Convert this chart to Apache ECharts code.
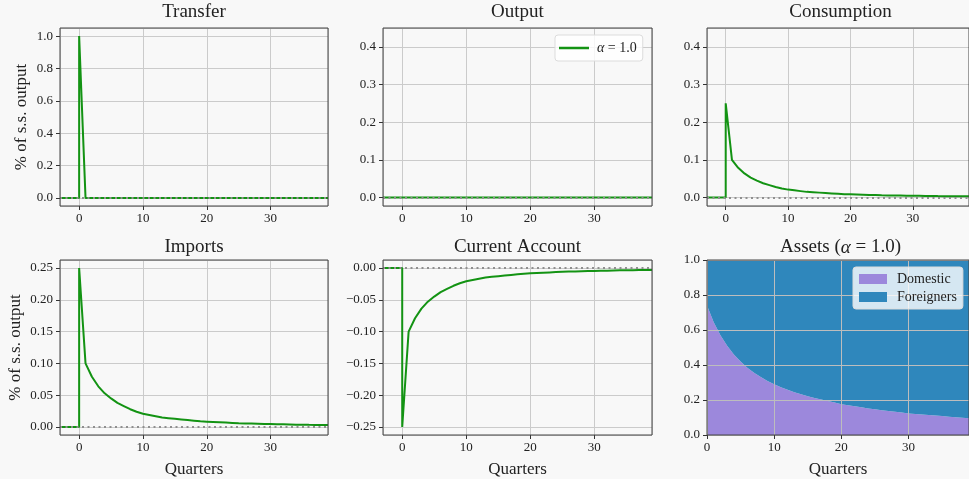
<!DOCTYPE html>
<html>
<head>
<meta charset="utf-8">
<script src="https://cdn.jsdelivr.net/npm/echarts@6.0.0/dist/echarts.min.js"></script>
<style>
html, body { margin: 0; padding: 0; background: #f8f8f8; }
#chart { width: 969px; height: 479px; }
</style>
</head>
<body>
<div id="chart"></div>
<script>
// quarters after the shock, pre-shock points are flat at zero
const preQuarters = [-3, 0]
const preValues = [0, 0]
const quarters = [0, 1, 2, 3, 4, 5, 6, 7, 8, 9, 10, 11, 12, 13, 14, 15, 16, 17, 18, 19,
  20, 21, 22, 23, 24, 25, 26, 27, 28, 29, 30, 31, 32, 33, 34, 35, 36, 37, 38, 39]

const transfer = [1.0, 0, 0, 0, 0, 0, 0, 0, 0, 0, 0, 0, 0, 0, 0, 0, 0, 0, 0, 0,
  0, 0, 0, 0, 0, 0, 0, 0, 0, 0, 0, 0, 0, 0, 0, 0, 0, 0, 0, 0]
const output = [0.0015, 0, 0, 0, 0, 0, 0, 0, 0, 0, 0, 0, 0, 0, 0, 0, 0, 0, 0, 0,
  0, 0, 0, 0, 0, 0, 0, 0, 0, 0, 0, 0, 0, 0, 0, 0, 0, 0, 0, 0]
const consumption = [0.250, 0.100, 0.079, 0.064, 0.053, 0.045, 0.038, 0.033, 0.028, 0.024,
  0.021, 0.019, 0.017, 0.015, 0.014, 0.013, 0.012, 0.011, 0.010, 0.009,
  0.0085, 0.008, 0.0075, 0.007, 0.0065, 0.006, 0.0057, 0.0054, 0.0051, 0.0048,
  0.0046, 0.0044, 0.0042, 0.004, 0.0038, 0.0037, 0.0035, 0.0034, 0.0033, 0.0032]
const imports = [0.250, 0.100, 0.079, 0.064, 0.053, 0.045, 0.038, 0.033, 0.028, 0.024,
  0.021, 0.019, 0.017, 0.015, 0.014, 0.013, 0.012, 0.011, 0.010, 0.009,
  0.0085, 0.008, 0.0075, 0.007, 0.0065, 0.006, 0.0057, 0.0054, 0.0051, 0.0048,
  0.0046, 0.0044, 0.0042, 0.004, 0.0038, 0.0037, 0.0035, 0.0034, 0.0033, 0.0032]
const currentAccount = [-0.250, -0.100, -0.079, -0.064, -0.053, -0.045, -0.038, -0.033, -0.028, -0.024,
  -0.021, -0.019, -0.017, -0.015, -0.014, -0.013, -0.012, -0.011, -0.010, -0.009,
  -0.0085, -0.008, -0.0075, -0.007, -0.0065, -0.006, -0.0057, -0.0054, -0.0051, -0.0048,
  -0.0046, -0.0044, -0.0042, -0.004, -0.0038, -0.0037, -0.0035, -0.0034, -0.0033, -0.0032]

// asset shares (stacked to 1)
const domestic = [0.740, 0.645, 0.570, 0.510, 0.460, 0.420, 0.385, 0.356, 0.331, 0.309,
  0.290, 0.273, 0.258, 0.245, 0.233, 0.222, 0.212, 0.203, 0.195, 0.186,
  0.176, 0.170, 0.164, 0.158, 0.152, 0.147, 0.142, 0.137, 0.133, 0.128,
  0.123, 0.120, 0.117, 0.114, 0.111, 0.108, 0.105, 0.102, 0.099, 0.096]
const foreigners = [0.260, 0.355, 0.430, 0.490, 0.540, 0.580, 0.615, 0.644, 0.669, 0.691,
  0.710, 0.727, 0.742, 0.755, 0.767, 0.778, 0.788, 0.797, 0.805, 0.814,
  0.824, 0.830, 0.836, 0.842, 0.848, 0.853, 0.858, 0.863, 0.867, 0.872,
  0.877, 0.880, 0.883, 0.886, 0.889, 0.892, 0.895, 0.898, 0.901, 0.904]

const titles = ['Transfer', 'Output', 'Consumption', 'Imports', 'Current Account', 'Assets ({a|α} = 1.0)']

const font = 'Liberation Serif'
const green = '#139313'
const textColor = '#222'

const cells = [
  { left: 60, top: 28, width: 268, height: 178 },
  { left: 383, top: 28, width: 269, height: 178 },
  { left: 707, top: 28, width: 267, height: 178 },
  { left: 60, top: 260, width: 268, height: 178 },
  { left: 383, top: 260, width: 269, height: 178 },
  { left: 707, top: 260, width: 267, height: 178 }
]

const lineData = (vals) =>
  preQuarters.map((q, i) => [q, preValues[i]]).concat(quarters.map((q, i) => [q, vals[i]]))

const fmt1 = v => Number(v).toFixed(1)
const fmt2 = v => (v < 0 ? '\u2212' + (-v).toFixed(2) : v.toFixed(2))

const tickStyle = { show: true, length: 4, lineStyle: { color: '#333' } }
const gridLine = { show: true, lineStyle: { color: '#cbcbcb', width: 1 } }
const nameStyle = { fontFamily: font, fontSize: 17, color: textColor }
// spines come from the grid border, axis lines stay hidden and off zero
const noAxisLine = { show: false, onZero: false }

const xAx = (gi, bottom) => ({
  type: 'value',
  gridIndex: gi,
  min: -3,
  max: 39,
  axisLine: noAxisLine,
  axisTick: tickStyle,
  axisLabel: {
    fontFamily: font, fontSize: 13, color: textColor, margin: 6,
    showMinLabel: false, showMaxLabel: false
  },
  splitLine: gridLine,
  name: bottom ? 'Quarters' : '',
  nameLocation: 'middle',
  nameGap: 26,
  nameTextStyle: nameStyle
})

const yAx = (gi, min, max, formatter, name, gap) => ({
  type: 'value',
  gridIndex: gi,
  min: min,
  max: max,
  axisLine: noAxisLine,
  axisTick: tickStyle,
  axisLabel: {
    fontFamily: font, fontSize: 13, color: textColor, margin: 7,
    formatter: formatter, showMinLabel: false, showMaxLabel: false
  },
  splitLine: gridLine,
  name: name || '',
  nameLocation: 'middle',
  nameRotate: 90,
  nameGap: gap || 30,
  nameTextStyle: nameStyle
})

const zeroLine = {
  symbol: 'none',
  silent: true,
  label: { show: false },
  lineStyle: { type: [2, 3.5], color: '#8f8f8f', width: 1.8 },
  data: [{ yAxis: 0 }]
}

const lineSeries = (name, idx, vals) => ({
  name: name,
  type: 'line',
  xAxisIndex: idx,
  yAxisIndex: idx,
  data: lineData(vals),
  showSymbol: false,
  color: green,
  lineStyle: { width: 2, color: green },
  markLine: zeroLine,
  z: 3
})

const every10 = idx => quarters[idx] % 10 === 0

const chart = echarts.init(document.getElementById('chart'))

const option = {
  backgroundColor: '#f8f8f8',
  animation: false,
  title: cells.map((c, i) => ({
    text: titles[i],
    left: c.left + c.width / 2,
    top: i < 3 ? 3 : 238,
    textAlign: 'center',
    padding: 0,
    textStyle: {
      fontFamily: font, fontSize: 19, fontWeight: 'normal', color: textColor,
      rich: { a: { fontFamily: font, fontSize: 19, fontStyle: 'italic', color: textColor } }
    }
  })),
  grid: cells.map(c => Object.assign({
    show: true,
    backgroundColor: 'transparent',
    borderColor: '#444',
    borderWidth: 1,
    z: 6
  }, c)),
  legend: [
    {
      data: ['alpha'],
      left: 555,
      top: 35,
      icon: 'rect',
      itemWidth: 30,
      itemHeight: 2.5,
      padding: [6, 6, 6, 4],
      backgroundColor: 'rgba(255,255,255,0.8)',
      borderColor: '#dcdcdc',
      borderWidth: 1,
      borderRadius: 3,
      formatter: () => '{a|α} = 1.0',
      textStyle: {
        fontFamily: font, fontSize: 14, color: textColor, padding: [0, 0, 0, 3],
        rich: { a: { fontFamily: font, fontSize: 14, fontStyle: 'italic', color: textColor } }
      },
      z: 8
    },
    {
      data: ['Domestic', 'Foreigners'],
      orient: 'vertical',
      left: 853,
      top: 267,
      icon: 'rect',
      itemWidth: 28,
      itemHeight: 10,
      itemGap: 4,
      padding: [5, 6, 5, 6],
      backgroundColor: 'rgba(255,255,255,0.8)',
      borderColor: '#dcdcdc',
      borderWidth: 1,
      borderRadius: 3,
      textStyle: { fontFamily: font, fontSize: 14, color: textColor, padding: [0, 0, 0, 5] },
      z: 8
    }
  ],
  xAxis: [
    xAx(0, false),
    xAx(1, false),
    xAx(2, false),
    xAx(3, true),
    xAx(4, true),
    {
      type: 'category',
      gridIndex: 5,
      data: quarters,
      boundaryGap: false,
      z: 4,
      axisLine: noAxisLine,
      axisTick: Object.assign({ interval: every10 }, tickStyle),
      axisLabel: { fontFamily: font, fontSize: 13, color: textColor, margin: 6, interval: every10 },
      splitLine: { show: true, interval: every10, lineStyle: { color: '#bdbdbd', width: 1 } },
      name: 'Quarters',
      nameLocation: 'middle',
      nameGap: 26,
      nameTextStyle: nameStyle
    }
  ],
  yAxis: [
    yAx(0, -0.05, 1.05, fmt1, '% of s.s. output', 30),
    yAx(1, -0.0225, 0.45, fmt1),
    yAx(2, -0.0225, 0.45, fmt1),
    yAx(3, -0.0125, 0.2625, fmt2, '% of s.s. output', 36),
    yAx(4, -0.2625, 0.0125, fmt2),
    {
      type: 'value',
      gridIndex: 5,
      min: 0,
      max: 1,
      interval: 0.2,
      z: 4,
      axisLine: noAxisLine,
      axisTick: tickStyle,
      axisLabel: { fontFamily: font, fontSize: 13, color: textColor, margin: 7, formatter: fmt1 },
      splitLine: { show: true, lineStyle: { color: '#bdbdbd', width: 1 } }
    }
  ],
  series: [
    lineSeries('transfer', 0, transfer),
    lineSeries('alpha', 1, output),
    lineSeries('consumption', 2, consumption),
    lineSeries('imports', 3, imports),
    lineSeries('currentAccount', 4, currentAccount),
    {
      name: 'Domestic',
      type: 'line',
      xAxisIndex: 5,
      yAxisIndex: 5,
      stack: 'assets',
      data: domestic,
      showSymbol: false,
      color: '#9c88dc',
      lineStyle: { width: 0 },
      areaStyle: { color: '#9c88dc', opacity: 1 },
      z: 1
    },
    {
      name: 'Foreigners',
      type: 'line',
      xAxisIndex: 5,
      yAxisIndex: 5,
      stack: 'assets',
      data: foreigners,
      showSymbol: false,
      color: '#2f87bc',
      lineStyle: { width: 0 },
      areaStyle: { color: '#2f87bc', opacity: 1 },
      z: 1
    }
  ]
}
chart.setOption(option)
</script>
</body>
</html>
